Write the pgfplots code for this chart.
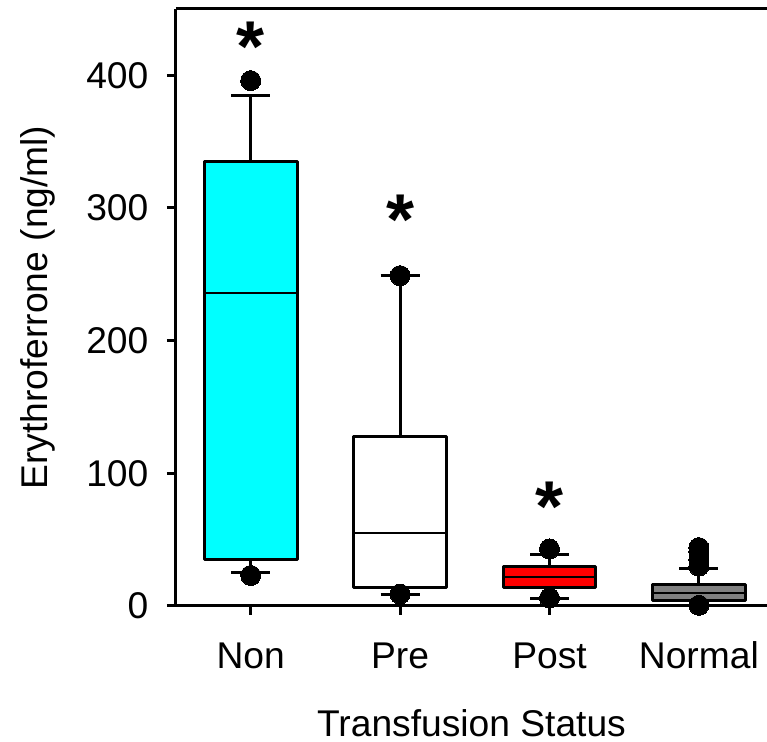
\documentclass[border=0pt]{standalone}
\usepackage{fontspec}
\setmainfont{Liberation Sans}
\usepackage{pgfplots}
\pgfplotsset{compat=1.18}
\definecolor{cy}{RGB}{0,255,255}
\definecolor{rd}{RGB}{255,0,0}
\definecolor{gy}{RGB}{128,128,128}
\begin{document}
\begin{tikzpicture}
\begin{scope}[overlay]
\begin{axis}[
  scale only axis, width=295.5pt, height=298.5pt,
  xmin=-0.5, xmax=3.456, ymin=0, ymax=450,
  axis x line*=bottom, axis y line*=left,
  axis line style={line width=1.5pt, black},
  clip=false,
  unbounded coords=jump,
  xtick={0,1,2,3}, xticklabels={Non,Pre,Post,Normal},
  ytick={0,100,200,300,400},
  tick align=outside, major tick length=4.5pt,
  tick style={line width=1.5pt, black},
  /pgf/number format/assume math mode=true,
  ticklabel style={font=\fontsize{18.6}{22}\selectfont},
  yticklabel style={xshift=-5.8pt},
  xticklabel style={yshift=-9.4pt, text height=14pt},
  label style={font=\fontsize{18.6}{22}\selectfont},
  xlabel={Transfusion Status},
  ylabel={Erythroferrone (ng/ml)},
  xlabel style={at={([yshift=-65.5pt]axis description cs:0.5,0)}, anchor=base},
  ylabel style={at={([xshift=-64pt]axis description cs:0,0.5)}, anchor=base, rotate=0},
]
% whiskers and caps
\addplot[black, line width=1.5pt] coordinates {
  (0,335) (0,385) (nan,nan) (-0.13,385) (0.13,385) (nan,nan)
  (0,35) (0,25) (nan,nan) (-0.13,25) (0.13,25) (nan,nan)
  (1,128) (1,249) (nan,nan) (0.87,249) (1.13,249) (nan,nan)
  (1,14) (1,9) (nan,nan) (0.87,9) (1.13,9) (nan,nan)
  (2,29.5) (2,39) (nan,nan) (1.87,39) (2.13,39) (nan,nan)
  (2,14) (2,6) (nan,nan) (1.87,6) (2.13,6) (nan,nan)
  (3,16) (3,28) (nan,nan) (2.87,28) (3.13,28) (nan,nan)
};
% boxes
\addplot[draw=black, fill=cy, line width=1.5pt, line join=round] coordinates {(-0.31,35) (0.31,35) (0.31,335) (-0.31,335)} -- cycle;
\addplot[draw=black, fill=white, line width=1.5pt, line join=round] coordinates {(0.69,14) (1.31,14) (1.31,128) (0.69,128)} -- cycle;
\addplot[draw=black, fill=rd, line width=1.5pt, line join=round] coordinates {(1.69,14) (2.31,14) (2.31,29.5) (1.69,29.5)} -- cycle;
\addplot[draw=black, fill=gy, line width=1.5pt, line join=round] coordinates {(2.69,4) (3.31,4) (3.31,16) (2.69,16)} -- cycle;
% medians
\addplot[black, line width=1pt] coordinates {
  (-0.31,236) (0.31,236) (nan,nan)
  (0.69,55) (1.31,55) (nan,nan)
  (1.69,22) (2.31,22) (nan,nan)
  (2.69,10) (3.31,10)
};
% outliers
\addplot[only marks, mark=*, mark size=5pt, mark options={fill=black, draw=black, line width=0pt}] coordinates {
  (0,396) (0,23) (1,249) (1,9) (2,43) (2,6)
  (3,44) (3,41) (3,35) (3,30) (3,0.5)
};
\node[anchor=base, font=\fontsize{36}{36}\selectfont\bfseries] at (axis cs:0,403) {*};
\node[anchor=base, font=\fontsize{36}{36}\selectfont\bfseries] at (axis cs:1,272.5) {*};
\node[anchor=base, font=\fontsize{36}{36}\selectfont\bfseries] at (axis cs:2,56) {*};
\draw[line width=1.5pt] (rel axis cs:0,1) -- (rel axis cs:1,1);
\coordinate (ll) at (rel axis cs:0,0);
\coordinate (ur) at (rel axis cs:1,1);
\end{axis}
\end{scope}
\path ([shift={(-88pt,-68pt)}]ll) rectangle ([shift={(0pt,4.5pt)}]ur);
\end{tikzpicture}
\end{document}
